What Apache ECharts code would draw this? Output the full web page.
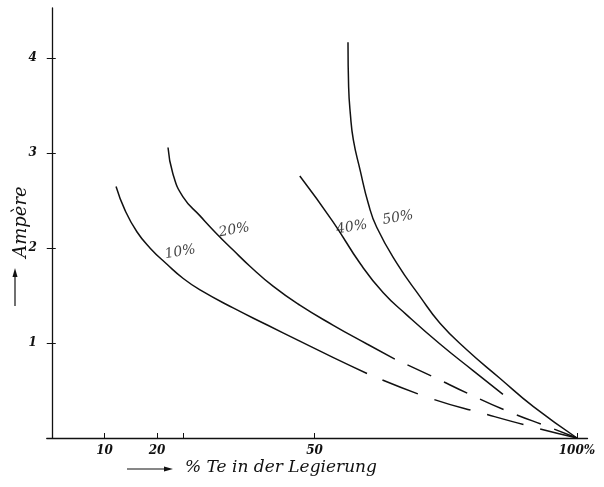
<!DOCTYPE html>
<html>
<head>
<meta charset="utf-8">
<script src="https://cdn.jsdelivr.net/npm/echarts@6/dist/echarts.min.js"></script>
<style>
  html, body { margin: 0; padding: 0; background: #fff; }
  #main { width: 604px; height: 487px; }
</style>
</head>
<body>
<div id="main"></div>
<script>
// Achsen
const xTicks = [10, 20, 25, 50, 100]
const xLabels = [10, 20, 50, 100]
const yTicks = [1, 2, 3, 4]

// Kurven [% Te, Ampère] – durchgezogen
const curve10 = [[12.2, 2.65], [13.9, 2.40], [16.2, 2.17], [18.7, 2.0], [21.9, 1.83], [25, 1.68], [28.2, 1.56], [34.5, 1.37], [41, 1.19], [47.2, 1.02], [53.5, 0.85], [60, 0.68]]
const curve20 = [[22.1, 3.06], [23.0, 2.79], [24.95, 2.54], [28.2, 2.34], [31.4, 2.15], [34.5, 1.98], [37.7, 1.81], [42.1, 1.60], [47.2, 1.40], [53.5, 1.19], [60, 0.99], [65.3, 0.83]]
const curve40 = [[47.2, 2.76], [53.5, 2.28], [58.8, 1.83], [63.1, 1.53], [67.5, 1.30], [73.9, 0.99], [80.2, 0.71], [85.9, 0.46]]
const curve50 = [[56.38, 4.17], [56.5, 3.70], [56.82, 3.42], [57.4, 3.14], [58.7, 2.82], [60.25, 2.47], [61.85, 2.22], [65.7, 1.84], [70.1, 1.49], [73.9, 1.21], [79.0, 0.93], [85.3, 0.63], [91.7, 0.33], [100, 0]]

// gestrichelte Verlängerungen
const dash10 = [[60, 0.68], [72, 0.42], [82.7, 0.25], [92, 0.11], [100, 0]]
const dash20 = [[65.3, 0.83], [72.4, 0.65], [79.2, 0.47], [86.9, 0.28], [94.9, 0.11], [100, 0]]

// Beschriftung der Kurven
const curveLabels = [[24.4, 1.96, '10%'], [34.7, 2.19, '20%'], [57.1, 2.22, '40%'], [65.9, 2.32, '50%']]

const ink = '#111'
const numFont = { fontFamily: 'DejaVu Serif', fontStyle: 'italic', fontWeight: 'bold', color: ink }

const chart = echarts.init(document.getElementById('main'))

function lineSeries(data, dashed, offset) {
  return {
    type: 'line',
    data: data,
    smooth: 0.5,
    symbol: 'none',
    silent: true,
    lineStyle: {
      color: ink,
      width: 1.5,
      type: dashed ? dashed : 'solid',
      dashOffset: offset || 0
    }
  }
}

const option = {
  backgroundColor: '#fff',
  animation: false,
  grid: { left: 46.75, right: 16.5, top: 8, bottom: 49 },
  xAxis: {
    type: 'value',
    min: -1,
    max: 102,
    splitLine: { show: false },
    axisLine: { lineStyle: { color: ink, width: 1.3 } },
    axisTick: { inside: true, length: 5, customValues: xTicks, lineStyle: { color: ink } },
    axisLabel: {
      customValues: xLabels,
      margin: 7,
      fontSize: 12,
      ...numFont,
      formatter: v => (v === 100 ? '100%' : String(v))
    }
  },
  yAxis: [
    {
      type: 'value',
      min: 0,
      max: 4.53,
      splitLine: { show: false },
      axisLine: { lineStyle: { color: ink, width: 1.3 } },
      axisTick: { show: false },
      axisLabel: { customValues: yTicks, margin: 10, fontSize: 12, ...numFont }
    },
    {
      // Querstriche an der Ordinate
      type: 'value',
      position: 'left',
      min: 0,
      max: 4.53,
      splitLine: { show: false },
      axisLine: { show: false, onZero: false },
      axisTick: { inside: true, length: 9, customValues: yTicks, lineStyle: { color: ink } },
      axisLabel: { show: false }
    }
  ],
  series: [
    lineSeries(curve10),
    lineSeries(curve20),
    lineSeries(curve40),
    lineSeries(curve50),
    lineSeries(dash10, [38, 17], 38),
    lineSeries(dash20, [26, 14], 26),
    {
      type: 'scatter',
      data: curveLabels,
      symbolSize: 0,
      silent: true,
      label: {
        show: true,
        position: 'inside',
        rotate: 10,
        formatter: p => p.data[2],
        fontFamily: 'DejaVu Serif',
        fontStyle: 'italic',
        fontSize: 14,
        color: ink
      }
    }
  ],
  graphic: [
    // y-Achsentitel
    {
      type: 'text',
      x: 21,
      y: 222,
      rotation: Math.PI / 2,
      style: {
        text: 'Ampère',
        font: 'italic 18px "DejaVu Serif"',
        fill: ink,
        align: 'center',
        verticalAlign: 'middle'
      }
    },
    { type: 'line', shape: { x1: 15, y1: 306, x2: 15, y2: 274 }, style: { stroke: ink, lineWidth: 1.2 } },
    { type: 'polygon', shape: { points: [[15, 268], [12.5, 277], [17.5, 277]] }, style: { fill: ink } },
    // x-Achsentitel
    { type: 'line', shape: { x1: 127, y1: 469, x2: 166, y2: 469 }, style: { stroke: ink, lineWidth: 1.2 } },
    { type: 'polygon', shape: { points: [[173, 469], [164, 466.5], [164, 471.5]] }, style: { fill: ink } },
    {
      type: 'text',
      x: 185,
      y: 468,
      style: {
        text: '% Te in der Legierung',
        font: 'italic 17px "DejaVu Serif"',
        fill: ink,
        align: 'left',
        verticalAlign: 'middle'
      }
    }
  ]
}

chart.setOption(option)
</script>
</body>
</html>
